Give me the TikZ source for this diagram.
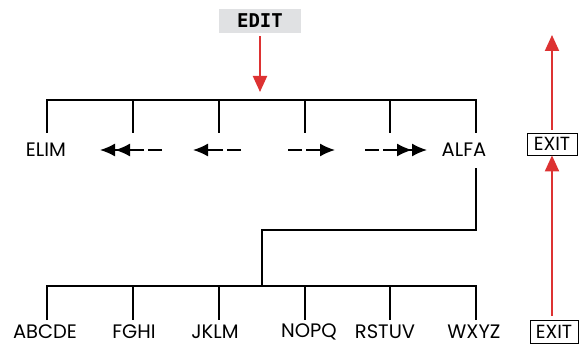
\documentclass[tikz,border=0pt]{standalone}
\usepackage{fontspec}
\setmainfont{Poppins}
\newfontfamily\lcdfont{DejaVu Sans Mono}
\usetikzlibrary{arrows.meta}
\definecolor{redarr}{RGB}{221,50,50}
\definecolor{editgray}{RGB}{224,225,227}
\tikzset{
  lbl/.style={inner sep=0pt, font=\fontsize{19.5}{19.5}\selectfont},
  bar/.style={line width=1.6pt, black},
  redline/.style={line width=2pt, redarr, -{Triangle[length=16pt,width=14pt]}},
  exitbox/.style={draw=black, line width=0.8pt, inner sep=0pt, minimum height=22pt, font=\fontsize{19}{19}\selectfont},
  dashar/.style={line width=1.6pt, dash pattern=on 14pt off 4pt on 60pt},
}
\begin{document}
\begin{tikzpicture}[x=1pt,y=-1pt]
\useasboundingbox (0,0) rectangle (579,345);
% EDIT
\node[fill=editgray, minimum width=82pt, minimum height=24pt, inner sep=0pt, font=\lcdfont\bfseries\fontsize{19}{19}\selectfont] (edit) at (260,21) {EDIT};
\coordinate (editend) at (260,92);
\draw[redline] (edit.south) ++(0,3) coordinate (es) (es) -- (editend);
% top bar
\coordinate (t1) at (47,100);
\coordinate (t6) at (476,100);
\draw[bar] (47,133) coordinate (d1) -- (t1) -- (t6) -- (476,133) coordinate (d6);
\foreach \x/\n in {133/2,219/3,305/4,390/5}{
  \draw[bar] (\x,100) coordinate (t\n) -- (\x,133) coordinate (d\n);
}
% top labels
\node[lbl] (elim) at (46,150) {ELIM};
\node[lbl] (alfa) at (464,150) {ALFA};
% arrows
\coordinate (a1t) at (162,150); \coordinate (a1h) at (100,150);
\coordinate (a2t) at (241,150); \coordinate (a2h) at (193,150);
\coordinate (a3t) at (288,150); \coordinate (a3h) at (335,150);
\coordinate (a4t) at (365,150); \coordinate (a4h) at (427,150);
\draw[dashar, -{Latex[length=15pt,width=13pt]Latex[length=15pt,width=13pt]}] (a1t) -- (a1h);
\draw[dashar, -{Latex[length=15pt,width=13pt]}] (a2t) -- (a2h);
\draw[dashar, -{Latex[length=15pt,width=13pt]}] (a3t) -- (a3h);
\draw[dashar, -{Latex[length=15pt,width=13pt]Latex[length=15pt,width=13pt]}] (a4t) -- (a4h);
% connector ALFA -> lower bar
\coordinate (c1) at (476,168);
\coordinate (c2) at (476,230);
\coordinate (c3) at (262,230);
\coordinate (c4) at (262,286);
\draw[bar] (c1) -- (c2) -- (c3) -- (c4);
% bottom bar
\draw[bar] (47,320) coordinate (e1) -- (47,286) coordinate (b1) -- (476,286) coordinate (b6) -- (476,320) coordinate (e6);
\foreach \x/\n in {133/2,219/3,305/4,390/5}{
  \draw[bar] (\x,286) coordinate (b\n) -- (\x,320) coordinate (e\n);
}
% bottom labels
\node[lbl] (l1) at (45,331.5) {ABCDE};
\node[lbl] (l2) at (134,331.5) {FGHI};
\node[lbl] (l3) at (215,331.5) {JKLM};
\node[lbl] (l4) at (309,331.5) {NOPQ};
\node[lbl] (l5) at (385,331.5) {RSTUV};
\node[lbl] (l6) at (474,331.5) {WXYZ};
% EXIT boxes
\node[exitbox, minimum width=50pt] (exit1) at (552,144) {EXIT};
\node[exitbox, minimum width=48pt, minimum height=23pt] (exit2) at (554,331.5) {EXIT};
\coordinate (top) at (552,35);
\draw[redline] (exit1.north -| top) ++(0,-3) coordinate (x1) (x1) -- (top);
\draw[redline] (552,316) coordinate (x2) -- (exit1.south -| x2) ;
\end{tikzpicture}
\end{document}
